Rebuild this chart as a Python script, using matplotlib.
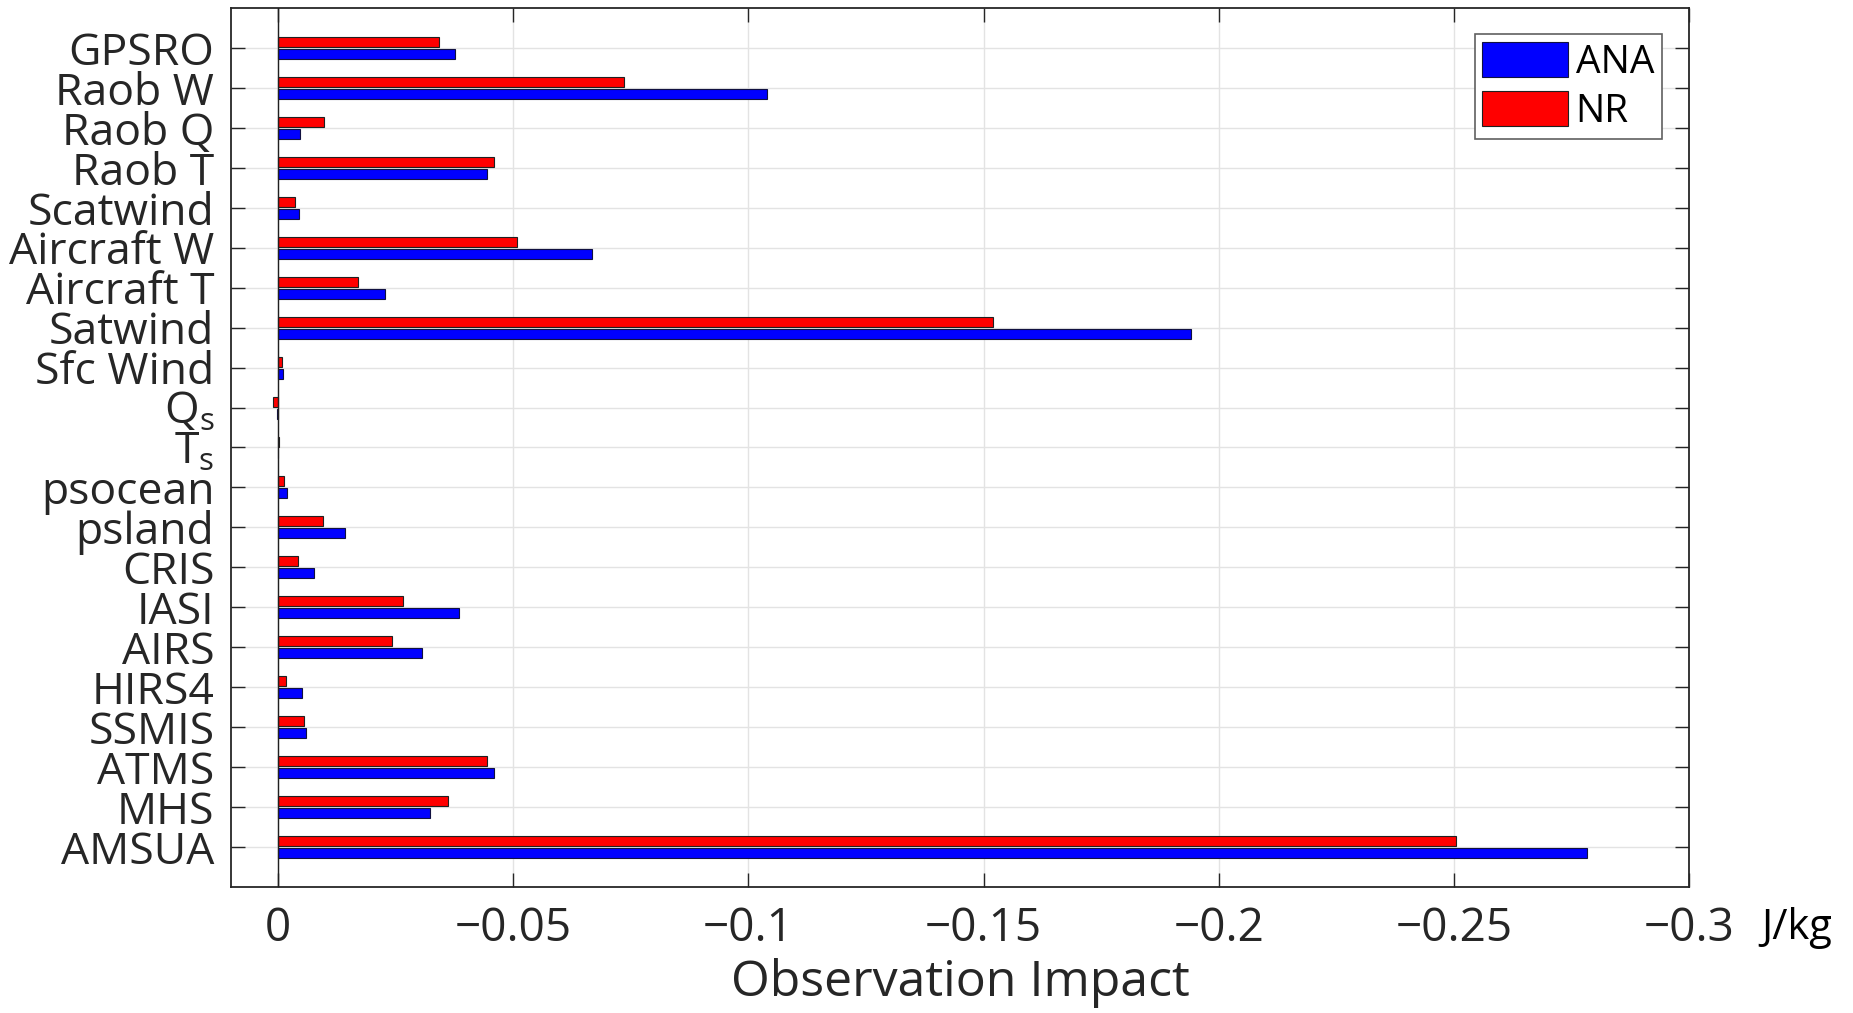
import matplotlib
matplotlib.use("Agg")
import matplotlib.pyplot as plt
import numpy as np
from matplotlib.patches import Patch

categories = ["GPSRO", "Raob W", "Raob Q", "Raob T", "Scatwind", "Aircraft W",
              "Aircraft T", "Satwind", "Sfc Wind", "Q$_\\mathregular{s}$", "T$_\\mathregular{s}$",
              "psocean", "psland", "CRIS", "IASI", "AIRS", "HIRS4", "SSMIS",
              "ATMS", "MHS", "AMSUA"]
ana = [-0.0376, -0.1040, -0.0047, -0.0445, -0.0045, -0.0668, -0.0228, -0.1941,
       -0.0011, 0.0002, 0.0, -0.0019, -0.0142, -0.0076, -0.0384, -0.0306,
       -0.0050, -0.0059, -0.0460, -0.0323, -0.2784]
nr = [-0.0342, -0.0736, -0.0097, -0.0459, -0.0036, -0.0509, -0.0170, -0.1521,
      -0.00085, 0.0010, -0.0003, -0.0013, -0.0095, -0.0042, -0.0265, -0.0242,
      -0.0017, -0.0055, -0.0445, -0.0362, -0.2504]
xticks = [0, -0.05, -0.1, -0.15, -0.2, -0.25, -0.3]
xticklabels = ["0", "\u22120.05", "\u22120.1", "\u22120.15", "\u22120.2", "\u22120.25", "\u22120.3"]
series_names = ["ANA", "NR"]

W, H = 1853, 1013
fig = plt.figure(figsize=(W / 100, H / 100), dpi=100)
ax = fig.add_axes([231 / W, 1 - 887 / H, (1689 - 231) / W, (887 - 8) / H])

ypos = np.arange(1, len(categories) + 1)
bh = 0.25
ax.barh(ypos - 0.15, nr, height=bh, color="#ff0000", edgecolor="#202020", linewidth=0.8, zorder=3)
ax.barh(ypos + 0.15, ana, height=bh, color="#0000ff", edgecolor="#101040", linewidth=0.8, zorder=3)
ax.axvline(0, color="#202020", lw=1.0, zorder=4)

ax.set_ylim(22, 0)
ax.set_xlim(0.01, -0.3)
ax.set_yticks(ypos)
ax.set_yticklabels(categories, family=["Open Sans", "DejaVu Sans"], fontsize=32,
                   color="#262626")
ax.set_xticks(xticks)
ax.set_xticklabels(xticklabels, family=["Open Sans", "DejaVu Sans"], fontsize=33, color="#262626")
ax.grid(True, color="#e3e3e3", lw=1.0, zorder=0)
ax.set_axisbelow(True)
ax.tick_params(axis="both", direction="in", length=10, width=1.0, color="#262626",
               top=True, right=True)
ax.tick_params(axis="y", pad=12)
ax.tick_params(axis="x", pad=14)
for s in ax.spines.values():
    s.set_color("#262626")
    s.set_linewidth(1.3)

ax.set_xlabel("Observation Impact", family=["Open Sans", "DejaVu Sans"], fontsize=36,
              color="#262626", labelpad=4)
fig.text(1797 / W, 1 - 928 / H, "J/kg", family=["Open Sans", "DejaVu Sans"], fontsize=30,
         ha="center", va="center", color="black")

handles = [Patch(facecolor="#0000ff", edgecolor="#101040", lw=0.8),
           Patch(facecolor="#ff0000", edgecolor="#202020", lw=0.8)]
leg = ax.legend(handles, series_names, loc="upper right",
                bbox_to_anchor=((1662 - 231) / 1458, 1 - (34 - 8) / 879),
                borderaxespad=0, fancybox=False, framealpha=1,
                prop={"family": ["Open Sans", "DejaVu Sans"], "size": 28},
                handlelength=2.2, handleheight=1.0, handletextpad=0.2,
                labelspacing=0.25, borderpad=0.2)
leg.get_frame().set_edgecolor("#606060")
leg.get_frame().set_linewidth(1.2)

fig.savefig("out.png", dpi=100, facecolor="white")
